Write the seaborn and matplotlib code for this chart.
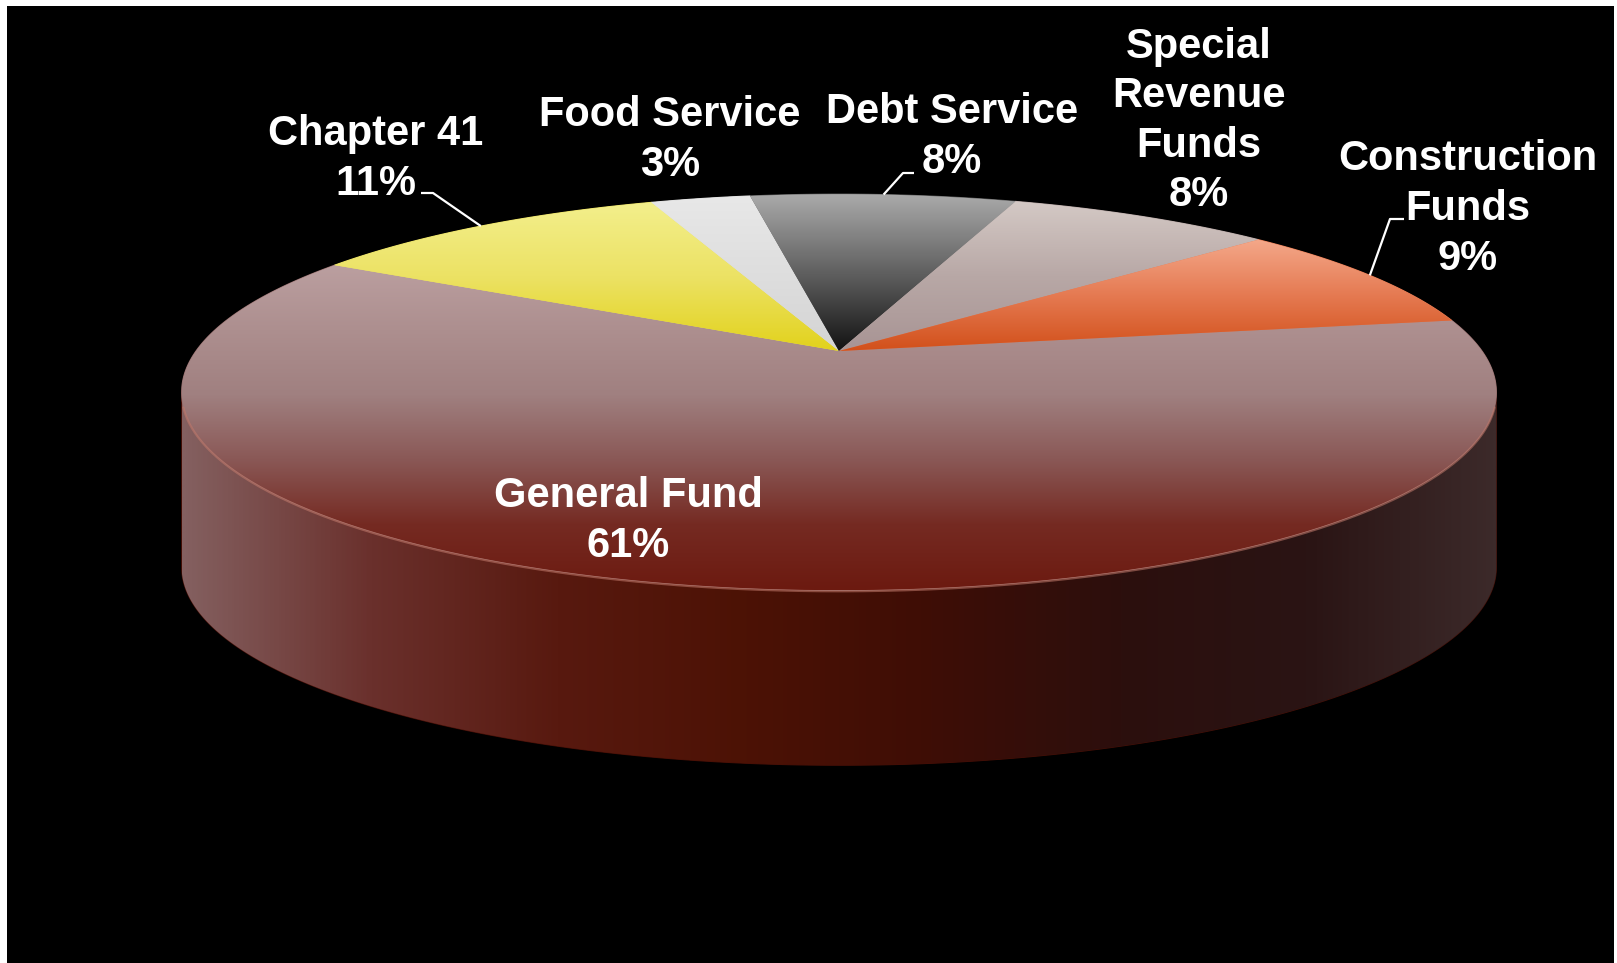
import numpy as np
import matplotlib
matplotlib.use("Agg")
import matplotlib.pyplot as plt
from matplotlib.patches import Polygon, Rectangle
import seaborn as sns

# Fund shares (percent), in drawing order (clockwise)
categories = ["General Fund", "Chapter 41", "Food Service", "Debt Service",
              "Special Revenue Funds", "Construction Funds"]
shares = [61, 11, 3, 8, 8, 9]
label_text = ["General Fund\n61%", "Chapter 41\n11%", "Food Service\n3%",
              "Debt Service\n8%", "Special\nRevenue\nFunds\n8%",
              "Construction\nFunds\n9%"]

# top-face gradients (rim side -> centre side) for each slice
top_colors = [
    ["#bb9fa0", "#ad8f8f", "#a08080", "#8a5856", "#752a22", "#6c1a10"],
    ["#f3ef8c", "#ece264", "#e2d21c"],
    ["#e8e8e8", "#d4d4d4"],
    ["#aaaaaa", "#606060", "#121212"],
    ["#d4c9c5", "#b8a8a6", "#a89494"],
    ["#f4a88a", "#e57a52", "#d2501a"],
]
# side wall of the disc, left -> right
side_colors = ["#846060", "#6a302c", "#58190f", "#4c1205", "#3e0d06",
               "#2c0f0d", "#2a1414", "#3c2a2a"]

sns.set_theme(style="white")
plt.rcParams["font.family"] = ["Liberation Sans", "DejaVu Sans"]

W, H = 1617, 963
fig = plt.figure(figsize=(W / 100, H / 100), dpi=100)
fig.patch.set_facecolor("white")
ax = fig.add_axes([0, 0, 1, 1])
ax.set_axis_off()

ax.add_patch(Rectangle((7, 6), 1607, 957, facecolor="black", edgecolor="none", zorder=0))

# projected disc geometry
CX, CY = 839.0, 351.0
A, B = 643.0, 189.5
K = 0.208
DEPTH = 175.0
START = -9.6


def rim(phi_deg, z=0.0):
    t = np.radians(phi_deg)
    d = 1 - K * np.sin(t)
    return CX + A * np.cos(t) / d, CY + B * np.sin(t) / d + z


def gradient_fill(poly_xy, colors, horizontal=False, zorder=1):
    cmap = sns.blend_palette(colors, as_cmap=True)
    # solid underlay in the mean colour hides antialiasing seams between slices
    ax.add_patch(Polygon(poly_xy, closed=True, facecolor=cmap(0.5),
                         edgecolor=cmap(0.5), lw=0.8, zorder=zorder - 0.5))
    patch = Polygon(poly_xy, closed=True, facecolor="none", edgecolor="none")
    ax.add_patch(patch)
    x0, y0 = poly_xy.min(axis=0)
    x1, y1 = poly_xy.max(axis=0)
    g = np.linspace(0, 1, 512)
    grad = g.reshape(1, -1) if horizontal else g.reshape(-1, 1)
    im = ax.imshow(grad, cmap=cmap, origin="lower", aspect="auto",
                   extent=(x0, x1, y0, y1), zorder=zorder, interpolation="bilinear")
    im.set_clip_path(patch)


# side wall (front half, between the silhouette points)
p1 = np.degrees(np.arcsin(K))
p2 = 180 - p1
ph = np.linspace(p1, p2, 300)
tx, ty = rim(ph)
bx, by = rim(ph[::-1], DEPTH)
side = np.column_stack([np.concatenate([tx, bx]), np.concatenate([ty, by])])
gradient_fill(side, side_colors, horizontal=True, zorder=1)

# top faces
total = sum(shares)
edges = START + np.concatenate([[0], np.cumsum(shares)]) / total * 360.0
mids = (edges[:-1] + edges[1:]) / 2
for i, (a0, a1) in enumerate(zip(edges[:-1], edges[1:])):
    ph = np.linspace(a0, a1, max(int((a1 - a0) * 3), 20))
    rx, ry = rim(ph)
    poly = np.column_stack([np.concatenate([[CX], rx]), np.concatenate([[CY], ry])])
    gradient_fill(poly, top_colors[i], zorder=3)

# soft highlight along the front rim
ph = np.linspace(p1 + 4, p2 - 4, 300)
hx, hy = rim(ph)
ax.plot(hx, hy + 1, color="#c27a6c", lw=1.6, alpha=0.55, zorder=4)

# labels
label_pos = {
    "General Fund": (628, 521),
    "Chapter 41": (376, 159),
    "Food Service": (670, 140),
    "Debt Service": (952, 137),
    "Special Revenue Funds": (1199, 121),
    "Construction Funds": (1468, 209),
}
for cat, txt in zip(categories, label_text):
    x, y = label_pos[cat]
    ax.text(x, y, txt, color="white", fontsize=30, fontweight="bold",
            ha="center", va="center", multialignment="center",
            linespacing=1.31, zorder=6)

# leader lines from the slice rims to their labels
leader_knees = {
    "Chapter 41": [(433, 193), (421, 193)],
    "Debt Service": [(903, 173), (914, 173)],
    "Construction Funds": [(1390, 219), (1404, 219)],
}
for cat, mid in zip(categories, mids):
    if cat in leader_knees:
        sx, sy = rim(mid)
        pts = [(sx, sy)] + leader_knees[cat]
        xs, ys = zip(*pts)
        ax.plot(xs, ys, color="white", lw=1.6, zorder=5, solid_capstyle="butt")

ax.set_xlim(0, W)
ax.set_ylim(H, 0)
fig.savefig("out.png", dpi=100, facecolor=fig.get_facecolor())
